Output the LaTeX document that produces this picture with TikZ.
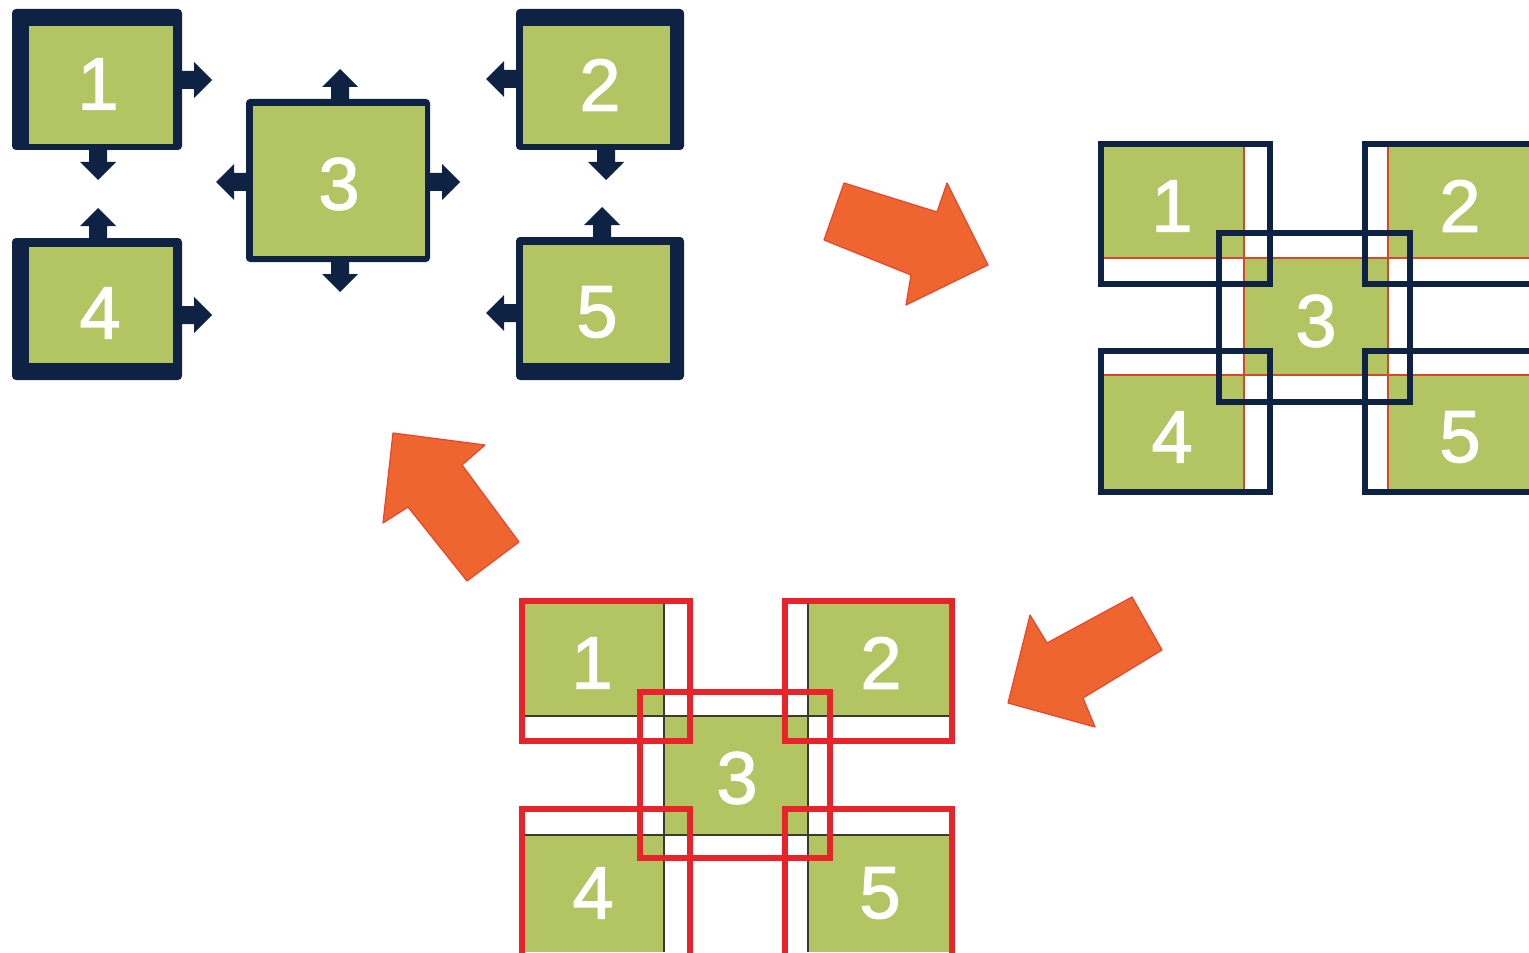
\documentclass[tikz,border=0pt]{standalone}
\usepackage{fontspec}
\setmainfont{Liberation Sans}
\newfontfamily\numfont[FakeBold=1.6]{Liberation Sans}
\definecolor{navy}{HTML}{0E2244}
\definecolor{leaf}{HTML}{B3C563}
\definecolor{flame}{HTML}{EE6530}
\definecolor{flameedge}{HTML}{E8452C}
\definecolor{framered}{HTML}{E8232A}
\definecolor{seam}{HTML}{D24A2A}
\definecolor{darkseam}{HTML}{3C3A2C}
\tikzset{
  num/.style={text=white,font=\numfont\fontsize{37}{37}\selectfont,inner sep=0pt},
  navyframe/.style={draw=navy,line width=3.2pt},
  redframe/.style={draw=framered,line width=3.2pt},
  redseam/.style={draw=seam,line width=0.7pt},
  darkseamline/.style={draw=darkseam,line width=0.6pt},
  bigarrow/.style={fill=flame,draw=flameedge,line width=0.6pt,line join=round},
  blockarr/.pic={\fill[navy] (-3,-9) -- (14,-9) -- (14,-18) -- (32,0) -- (14,18) -- (14,9) -- (-3,9) -- cycle;}
}
\begin{document}
\begin{tikzpicture}[x=0.5pt,y=-0.5pt]
\useasboundingbox (0,0) rectangle (1529,952);
\clip (0,0) rectangle (1529,952);

% ---- separate blocks with their expansion arrows ----
\fill[navy,rounded corners=2pt] (12,9) rectangle (182,150);
\fill[leaf] (29,26) rectangle (173,144);
\fill[navy,rounded corners=2pt] (516,9) rectangle (684,150);
\fill[leaf] (523,26) rectangle (670,144);
\fill[navy,rounded corners=2pt] (246,99) rectangle (430,262);
\fill[leaf] (253,106) rectangle (425,256);
\fill[navy,rounded corners=2pt] (12,238) rectangle (182,380);
\fill[leaf] (29,247) rectangle (173,363);
\fill[navy,rounded corners=2pt] (516,237) rectangle (684,380);
\fill[leaf] (523,245) rectangle (670,363);

\pic at (180,80) {blockarr};
\pic[rotate=-90] at (98,148) {blockarr};
\pic[rotate=90] at (98,240) {blockarr};
\pic at (180,315) {blockarr};
\pic[rotate=90] at (340,101) {blockarr};
\pic[rotate=-90] at (340,260) {blockarr};
\pic[rotate=180] at (248,182) {blockarr};
\pic at (428,182) {blockarr};
\pic[rotate=180] at (518,79) {blockarr};
\pic[rotate=-90] at (606,148) {blockarr};
\pic[rotate=90] at (602,239) {blockarr};
\pic[rotate=180] at (518,313) {blockarr};

\node[num] (a1) at (98,84) {1};
\node[num] (a2) at (600,85) {2};
\node[num] (a3) at (339,184) {3};
\node[num] (a4) at (100,313) {4};
\node[num] (a5) at (597,312) {5};

% ---- overlapping blocks, navy halos ----
\fill[leaf] (1104,147) rectangle (1244,258);
\fill[leaf] (1388,147) rectangle (1529,258);
\fill[leaf] (1244,258) rectangle (1388,375);
\fill[leaf] (1104,375) rectangle (1244,489);
\fill[leaf] (1388,375) rectangle (1529,489);
\draw[redseam] (1244,147) -- (1244,489);
\draw[redseam] (1388,147) -- (1388,489);
\draw[redseam] (1104,258) -- (1529,258);
\draw[redseam] (1104,375) -- (1529,375);
\draw[navyframe] (1101,144) rectangle (1270,284);
\draw[navyframe] (1365,144) rectangle (1560,284);
\draw[navyframe] (1101,351) rectangle (1270,492);
\draw[navyframe] (1365,351) rectangle (1560,492);
\draw[navyframe] (1219,233) rectangle (1410,402);
\node[num] (b1) at (1172,206) {1};
\node[num] (b2) at (1460,206) {2};
\node[num] (b3) at (1316,321) {3};
\node[num] (b4) at (1172,437) {4};
\node[num] (b5) at (1460,437) {5};

% ---- overlapping blocks, red halos ----
\fill[leaf] (525,604) rectangle (664,716);
\fill[leaf] (808,604) rectangle (949,716);
\fill[leaf] (664,716) rectangle (808,835);
\fill[leaf] (525,835) rectangle (664,952);
\fill[leaf] (808,835) rectangle (949,952);
\draw[darkseamline] (664,604) -- (664,952);
\draw[darkseamline] (808,604) -- (808,952);
\draw[darkseamline] (525,716) -- (949,716);
\draw[darkseamline] (525,835) -- (949,835);
\draw[redframe] (522,601) rectangle (690,741);
\draw[redframe] (785,601) rectangle (952,741);
\draw[redframe] (522,809) rectangle (690,1000);
\draw[redframe] (785,809) rectangle (952,1000);
\draw[redframe] (640,692) rectangle (830,858);
\node[num] (c1) at (592,663) {1};
\node[num] (c2) at (881,663) {2};
\node[num] (c3) at (737,778) {3};
\node[num] (c4) at (593,893) {4};
\node[num] (c5) at (880,893) {5};

% ---- cycle arrows ----
\filldraw[bigarrow] (844,183) -- (937,212) -- (947,183) -- (988,265) -- (906,305) -- (911,275) -- (824,240) -- cycle;
\filldraw[bigarrow] (1132,597) -- (1162,650) -- (1083,698) -- (1095,727) -- (1008,703) -- (1030,615) -- (1047,643) -- cycle;
\filldraw[bigarrow] (393,433) -- (485,445) -- (462,465) -- (519,542) -- (467,581) -- (408,507) -- (383,523) -- cycle;
\end{tikzpicture}
\end{document}
